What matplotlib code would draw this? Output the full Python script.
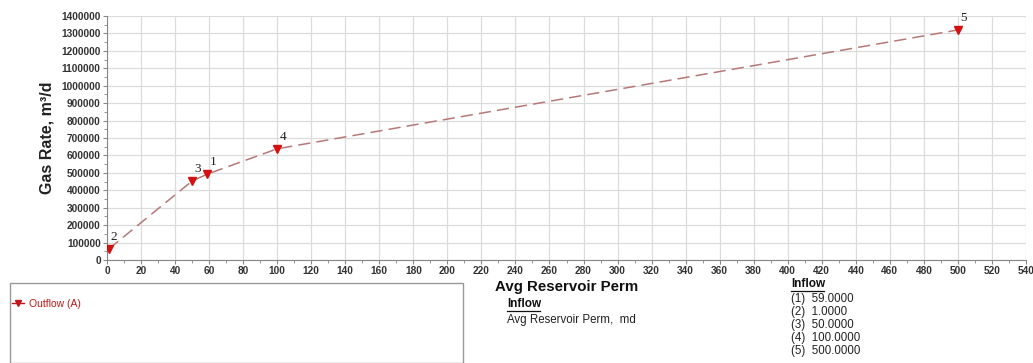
import matplotlib
matplotlib.use("Agg")
import matplotlib.pyplot as plt
from matplotlib.ticker import MultipleLocator, FuncFormatter
from matplotlib.lines import Line2D
from matplotlib.patches import Rectangle

plt.rcParams['font.family'] = ['Liberation Sans', 'DejaVu Sans']

# data: point number, perm (md), gas rate (m3/d)
point_ids = ["1", "2", "3", "4", "5"]
perm = [59.0, 1.0, 50.0, 100.0, 500.0]
gas_rate = [493000, 63000, 453000, 638000, 1320000]
inflow_values = ["59.0000", "1.0000", "50.0000", "100.0000", "500.0000"]

W, H = 1033, 363
fig = plt.figure(figsize=(W / 100, H / 100), dpi=100)

def px(x0, y0, x1, y1):
    return [x0 / W, 1 - y1 / H, (x1 - x0) / W, (y1 - y0) / H]

ax = fig.add_axes(px(107, 16, 1026, 260))

order = sorted(range(len(perm)), key=lambda i: perm[i])
xs = [perm[i] for i in order]
ys = [gas_rate[i] for i in order]
ax.plot(xs, ys, color="#b87878", lw=1.1, dashes=(8, 4), zorder=3)
ax.plot(perm, gas_rate, linestyle="none", marker="v", color="#d41010",
        markersize=5.2, zorder=4)
for pid, x, y in zip(point_ids, perm, gas_rate):
    ax.annotate(pid, (x, y), xytext=(1.5, 6.5), textcoords="offset points",
                fontsize=9.5, family=["Liberation Serif", "DejaVu Serif"],
                color="#222222")

ax.set_xlim(0, 540)
ax.set_ylim(0, 1400000)
ax.xaxis.set_major_locator(MultipleLocator(20))
ax.xaxis.set_minor_locator(MultipleLocator(10))
ax.yaxis.set_major_locator(MultipleLocator(100000))
ax.yaxis.set_minor_locator(MultipleLocator(50000))
ax.yaxis.set_major_formatter(FuncFormatter(lambda v, p: f"{int(round(v))}"))
ax.grid(True, which="major", color="#dcdcdc", lw=0.9)
ax.set_axisbelow(True)
for s in ["top", "right"]:
    ax.spines[s].set_visible(False)
for s in ["left", "bottom"]:
    ax.spines[s].set_color("#888888")
ax.tick_params(axis="both", which="major", labelsize=7.3, length=3,
               color="#888888", pad=1.5)
ax.tick_params(axis="both", which="minor", length=2, color="#888888")
for lab in ax.get_xticklabels() + ax.get_yticklabels():
    lab.set_fontweight("bold")
    lab.set_color("#333333")

fig.text(47 / W, 1 - 138 / H, "Gas Rate, m³/d", rotation=90, ha="center",
         va="center", fontsize=11.5, fontweight="bold", color="#222222")

# legend box
box = Rectangle((10 / W, 0), (463 - 10) / W, 1 - 283 / H, transform=fig.transFigure,
                fill=False, edgecolor="#999999", lw=1.0)
fig.patches.append(box)
fig.lines.append(Line2D([12 / W, 18 / W, 24 / W], [1 - 303 / H] * 3,
                        transform=fig.transFigure, color="#c01818", lw=1.0,
                        marker="v", markersize=4.5, markevery=[1],
                        markerfacecolor="#c01818"))
fig.text(29 / W, 1 - 304 / H, "Outflow (A)", fontsize=7.5, color="#c01818",
         ha="left", va="center")

fig.text(495 / W, 1 - 287 / H, "Avg Reservoir Perm", fontsize=10.8,
         fontweight="bold", ha="left", va="center", color="#111111")
fig.text(507 / W, 1 - 304 / H, "Inflow", fontsize=8.5, fontweight="bold",
         ha="left", va="center", color="#111111")
fig.lines.append(Line2D([507 / W, 540 / W], [1 - 311 / H] * 2,
                        transform=fig.transFigure, color="#111111", lw=0.9))
fig.text(507 / W, 1 - 319.5 / H, "Avg Reservoir Perm,  md", fontsize=8.3,
         ha="left", va="center", color="#222222")

fig.text(791 / W, 1 - 284 / H, "Inflow", fontsize=8.5, fontweight="bold",
         ha="left", va="center", color="#111111")
fig.lines.append(Line2D([791 / W, 824 / W], [1 - 290.5 / H] * 2,
                        transform=fig.transFigure, color="#111111", lw=0.9))
for k, v in enumerate(inflow_values):
    y = 299 + k * 13
    fig.text(791 / W, 1 - y / H, f"({k + 1})  {v}", fontsize=8.3,
             ha="left", va="center", color="#222222")

fig.savefig("out.png", dpi=100, facecolor="white")
